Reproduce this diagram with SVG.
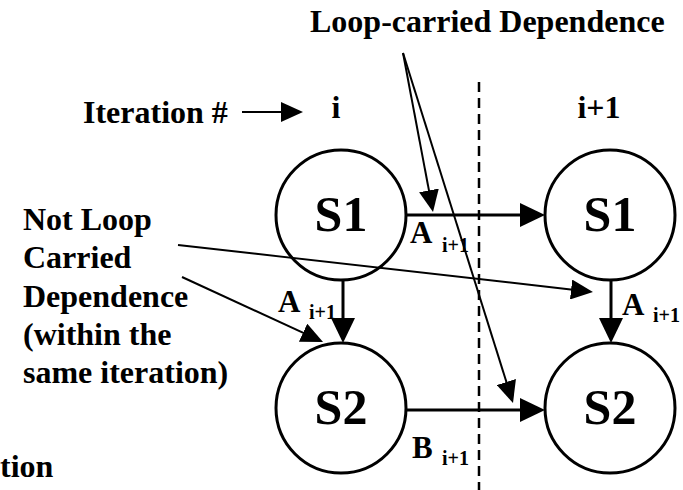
<svg xmlns="http://www.w3.org/2000/svg" width="683" height="490" viewBox="0 0 683 490">
<style>
.t{font-size:32px}
.node{font-size:50px;text-anchor:middle}
.lab{font-size:31px}
.sub{font-size:20px}
circle{fill:none;stroke:#000;stroke-width:3}
.thick{stroke:#000;stroke-width:3;fill:none;marker-end:url(#big)}
.thin{stroke:#000;stroke-width:2;fill:none;marker-end:url(#small)}
.dash{stroke:#000;stroke-width:2.5;stroke-dasharray:10 6;fill:none}
</style>
<defs>
<marker id="big" markerUnits="userSpaceOnUse" markerWidth="25" markerHeight="24" refX="19" refY="12" orient="auto">
<path d="M0,0 L25,12 L0,24 z" fill="#000"/>
</marker>
<marker id="small" markerUnits="userSpaceOnUse" markerWidth="22" markerHeight="20" refX="17" refY="10" orient="auto">
<path d="M0,0 L22,10 L0,20 z" fill="#000"/>
</marker>
</defs>
<rect width="683" height="490" fill="#fff"/>
<g font-family="'Liberation Serif', 'DejaVu Serif', serif" font-weight="bold" fill="#000">
<g id="labels">
<text class="t" x="310" y="32">Loop-carried Dependence</text>
<text class="t" x="83" y="123">Iteration #</text>
<text class="t" x="336" y="118" text-anchor="middle">i</text>
<text class="t" x="599" y="118" text-anchor="middle">i+1</text>
<text class="t" x="23" y="230">Not Loop</text>
<text class="t" x="23" y="268">Carried</text>
<text class="t" x="23" y="307">Dependence</text>
<text class="t" x="23" y="345">(within the</text>
<text class="t" x="23" y="383">same iteration)</text>
<text class="t" x="0" y="477">tion</text>
</g>
<g id="connectors">
<line class="dash" x1="479" y1="82" x2="479" y2="490"/>
<line class="thin" x1="242" y1="112" x2="298" y2="112"/>
<line class="thick" x1="406" y1="215" x2="539" y2="215"/>
<line class="thick" x1="406" y1="410" x2="539" y2="410"/>
<line class="thick" x1="343" y1="280" x2="343" y2="337"/>
<line class="thick" x1="611" y1="280" x2="611" y2="337"/>
<line class="thin" x1="403" y1="53" x2="432.1" y2="207.1"/>
<line class="thin" x1="403" y1="53" x2="511.5" y2="398.2"/>
<line class="thin" x1="178" y1="245" x2="588" y2="291.4"/>
<line class="thin" x1="182" y1="277" x2="318.5" y2="339.9"/>
</g>
<g id="node-s1-i">
<circle cx="341" cy="215" r="65"/>
<text class="node" x="341" y="231">S1</text>
</g>
<g id="node-s2-i">
<circle cx="341" cy="408" r="65"/>
<text class="node" x="341" y="424">S2</text>
</g>
<g id="node-s1-i1">
<circle cx="610" cy="215" r="65"/>
<text class="node" x="610" y="231">S1</text>
</g>
<g id="node-s2-i1">
<circle cx="610" cy="408" r="65"/>
<text class="node" x="610" y="424">S2</text>
</g>
<g id="edge-labels">
<text class="lab" x="410" y="243">A</text><text class="sub" x="442" y="252">i+1</text>
<text class="lab" x="278" y="312">A</text><text class="sub" x="309" y="319">i+1</text>
<text class="lab" x="622" y="315">A</text><text class="sub" x="653" y="322">i+1</text>
<text class="lab" x="412" y="458">B</text><text class="sub" x="442" y="465">i+1</text>
</g>
</g>
</svg>
